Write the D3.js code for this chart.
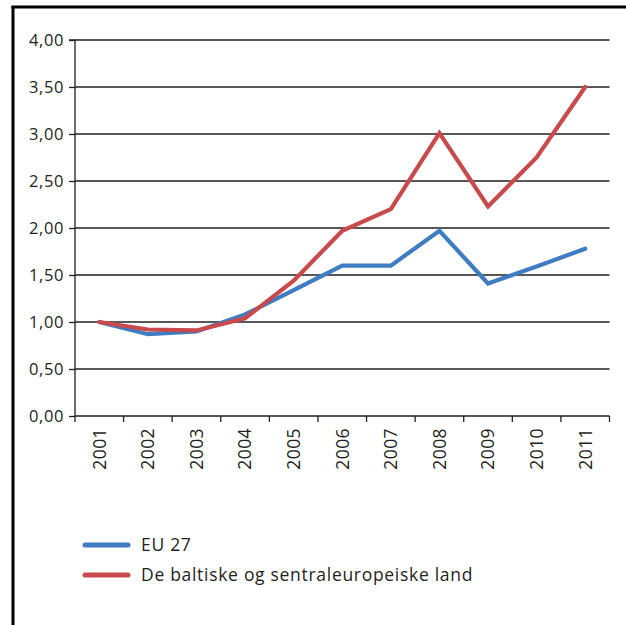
<!DOCTYPE html>
<html>
<head>
<meta charset="utf-8">
<script src="https://cdn.jsdelivr.net/npm/d3@7"></script>
<style>
html,body{margin:0;padding:0;background:#fff;}
svg{display:block;}
text{font-family:"Open Sans",sans-serif;fill:#231f20;}
</style>
</head>
<body>
<script>
const years = ["2001","2002","2003","2004","2005","2006","2007","2008","2009","2010","2011"];
const eu27 = [1.00,0.87,0.90,1.08,1.34,1.60,1.60,1.97,1.41,1.59,1.78];
const baltic = [1.00,0.92,0.91,1.04,1.44,1.97,2.20,3.01,2.23,2.75,3.50];
const yTicks = [0,0.5,1,1.5,2,2.5,3,3.5,4];
const seriesNames = ["EU 27","De baltiske og sentraleuropeiske land"];
const seriesColors = ["#3f7dc3","#c94a4c"];

const W = 626, H = 625;
const svg = d3.select("body").append("svg").attr("width",W).attr("height",H);

// frame (left and top)
svg.append("line").attr("x1",13).attr("x2",13).attr("y1",6).attr("y2",H).attr("stroke","#000").attr("stroke-width",3);
svg.append("line").attr("x1",11.5).attr("x2",W).attr("y1",7).attr("y2",7).attr("stroke","#000").attr("stroke-width",3);

const x0 = 75, x1 = 609.5, yTop = 40, yBot = 416;
const x = d3.scaleBand().domain(years).range([x0,x1]).paddingInner(0).paddingOuter(0);
const y = d3.scaleLinear().domain([0,4]).range([yBot,yTop]);

// gridlines
svg.append("g").selectAll("line").data(yTicks.filter(d=>d>0)).join("line")
  .attr("x1",x0).attr("x2",x1).attr("y1",d=>y(d)).attr("y2",d=>y(d))
  .attr("stroke","#231f20").attr("stroke-width",1.3);

// y axis
const yAxis = d3.axisLeft(y).tickValues(yTicks).tickSize(6).tickPadding(5)
  .tickFormat(d=>d3.format(".2f")(d).replace(".",","));
const gy = svg.append("g").attr("transform",`translate(${x0},0)`).call(yAxis);
gy.select(".domain").attr("stroke","#231f20").attr("stroke-width",1.3).attr("d",`M-6,${yTop}H0V${yBot}`);
gy.selectAll(".tick line").attr("stroke","#231f20").attr("stroke-width",1.3);
gy.selectAll(".tick text").style("font-size","16.5px").style("letter-spacing","0.6px").attr("fill","#231f20").attr("dy","0.33em");

// x axis
const xAxis = d3.axisBottom(x).tickSize(0).tickFormat(d=>d);
const gx = svg.append("g").attr("transform",`translate(0,${yBot})`).call(xAxis);
gx.select(".domain").attr("stroke","#231f20").attr("stroke-width",1.3).attr("d",`M${x0},0H${x1}`);
gx.selectAll(".tick text").style("font-size","17.5px").style("letter-spacing","0.4px").attr("fill","#231f20")
  .attr("text-anchor","end").attr("transform","rotate(-90)")
  .attr("x",-12).attr("y",0).attr("dy","0.36em");
// boundary ticks
const bounds = years.map(d=>x(d)).concat([x1]);
svg.append("g").selectAll("line").data(bounds).join("line")
  .attr("x1",d=>d).attr("x2",d=>d).attr("y1",yBot).attr("y2",yBot+6)
  .attr("stroke","#231f20").attr("stroke-width",1.3);

// lines
const line = d3.line().x((d,i)=>x(years[i])+x.bandwidth()/2).y(d=>y(d));
[eu27,baltic].forEach((s,k)=>{
  svg.append("path").datum(s).attr("d",line).attr("fill","none")
    .attr("stroke",seriesColors[k]).attr("stroke-width",4.2)
    .attr("stroke-linejoin","miter").attr("stroke-linecap","round");
});

// legend
const lg = svg.append("g");
seriesNames.forEach((n,k)=>{
  const yy = 545 + k*30;
  lg.append("line").attr("x1",85).attr("x2",128).attr("y1",yy).attr("y2",yy)
    .attr("stroke",seriesColors[k]).attr("stroke-width",5).attr("stroke-linecap","round");
  lg.append("text").attr("x",141).attr("y",yy).attr("dy","0.36em")
    .style("font-size","17.5px").style("letter-spacing","0.7px").text(n);
});
</script>
</body>
</html>
